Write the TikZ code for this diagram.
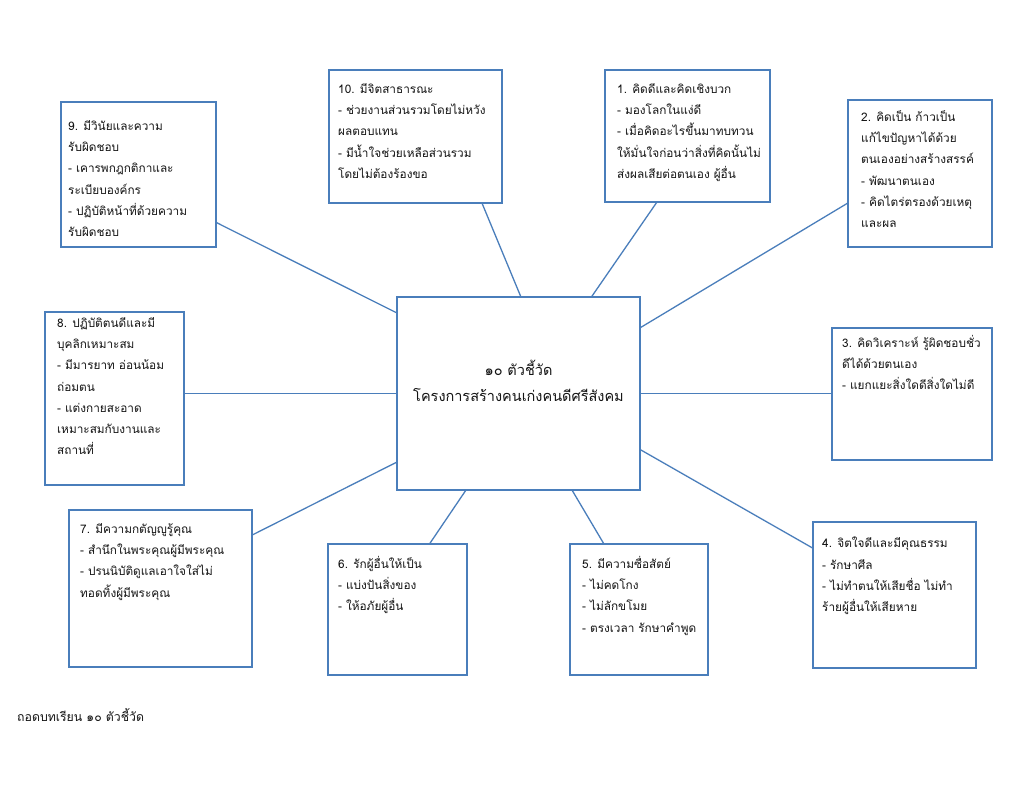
\documentclass[tikz,border=0pt]{standalone}
\usepackage{fontspec}
\newfontfamily\thaifont[Script=Thai]{Loma}
\usepackage{tikz}
\usetikzlibrary{positioning,calc}
\definecolor{kblue}{HTML}{4A7EBB}
\definecolor{ktextc}{HTML}{141414}
\tikzset{
  kbox/.style={draw=kblue, line width=2.6pt, fill=white, rectangle, inner sep=0pt, outer sep=0pt, anchor=north west},
  ktext/.style={align=left, anchor=north west, inner sep=0pt, text=ktextc, font=\thaifont\fontsize{11.8}{21.3}\selectfont},
  klink/.style={draw=kblue, line width=1.3pt}
}

\begin{document}
\begin{tikzpicture}[x=1pt,y=-1pt]
\useasboundingbox[fill=white] (0,0) rectangle (1024,791);
% boxes
\node[kbox, minimum width=243pt, minimum height=193pt] (c) at (397,297) {};
\node[kbox, minimum width=173pt, minimum height=133pt] (b10) at (329,70) {};
\node[kbox, minimum width=165pt, minimum height=132pt] (b1) at (605,70) {};
\node[kbox, minimum width=155pt, minimum height=145pt] (b9) at (61,102) {};
\node[kbox, minimum width=144pt, minimum height=147pt] (b2) at (848,100) {};
\node[kbox, minimum width=139pt, minimum height=173pt] (b8) at (45,312) {};
\node[kbox, minimum width=160pt, minimum height=132pt] (b3) at (832,328) {};
\node[kbox, minimum width=183pt, minimum height=157pt] (b7) at (69,510) {};
\node[kbox, minimum width=139pt, minimum height=131pt] (b6) at (328,544) {};
\node[kbox, minimum width=138pt, minimum height=131pt] (b5) at (570,544) {};
\node[kbox, minimum width=163pt, minimum height=146pt] (b4) at (813,522) {};
% texts
\node[align=center, text=ktextc, font=\thaifont\fontsize{14.5}{26}\selectfont] (tc) at ([yshift=13pt]c.center) {๑๐ ตัวชี้วัด\\โครงการสร้างคนเก่งคนดีศรีสังคม};
\node[ktext] (t10) at ([shift={(9,13)}]b10.north west) {10. มีจิตสาธารณะ\\- ช่วยงานส่วนรวมโดยไม่หวัง\\ผลตอบแทน\\- มีน้ำใจช่วยเหลือส่วนรวม\\โดยไม่ต้องร้องขอ};
\node[ktext] (t1) at ([shift={(12,13)}]b1.north west) {1. คิดดีและคิดเชิงบวก\\- มองโลกในแง่ดี\\- เมื่อคิดอะไรขึ้นมาทบทวน\\ให้มั่นใจก่อนว่าสิ่งที่คิดนั้นไม่\\ส่งผลเสียต่อตนเอง ผู้อื่น};
\node[ktext] (t9) at ([shift={(7,18)}]b9.north west) {9. มีวินัยและความ\\รับผิดชอบ\\- เคารพกฎกติกาและ\\ระเบียบองค์กร\\- ปฏิบัติหน้าที่ด้วยความ\\รับผิดชอบ};
\node[ktext] (t2) at ([shift={(13,10)}]b2.north west) {2. คิดเป็น ก้าวเป็น\\แก้ไขปัญหาได้ด้วย\\ตนเองอย่างสร้างสรรค์\\- พัฒนาตนเอง\\- คิดไตร่ตรองด้วยเหตุ\\และผล};
\node[ktext] (t8) at ([shift={(12,5)}]b8.north west) {8. ปฏิบัติตนดีและมี\\บุคลิกเหมาะสม\\- มีมารยาท อ่อนน้อม\\ถ่อมตน\\- แต่งกายสะอาด\\เหมาะสมกับงานและ\\สถานที่};
\node[ktext] (t3) at ([shift={(10,7)}]b3.north west) {3. คิดวิเคราะห์ รู้ผิดชอบชั่ว\\ดีได้ด้วยตนเอง\\- แยกแยะสิ่งใดดีสิ่งใดไม่ดี};
\node[ktext] (t7) at ([shift={(11,13)}]b7.north west) {7. มีความกตัญญูรู้คุณ\\- สำนึกในพระคุณผู้มีพระคุณ\\- ปรนนิบัติดูแลเอาใจใส่ไม่\\ทอดทิ้งผู้มีพระคุณ};
\node[ktext] (t6) at ([shift={(10,12)}]b6.north west) {6. รักผู้อื่นให้เป็น\\- แบ่งปันสิ่งของ\\- ให้อภัยผู้อื่น};
\node[ktext] (t5) at ([shift={(12,12)}]b5.north west) {5. มีความซื่อสัตย์\\- ไม่คดโกง\\- ไม่ลักขโมย\\- ตรงเวลา รักษาคำพูด};
\node[ktext] (t4) at ([shift={(9,15)}]b4.north west) {4. จิตใจดีและมีคุณธรรม\\- รักษาศีล\\- ไม่ทำตนให้เสียชื่อ ไม่ทำ\\ร้ายผู้อื่นให้เสียหาย};
\node[ktext, anchor=base west, font=\thaifont\fontsize{12.3}{21}\selectfont] (foot) at (17,721) {ถอดบทเรียน ๑๐ ตัวชี้วัด};
\begin{scope}
\draw[klink] ($(b9.north east)!.83!(b9.south east)$) -- ($(c.north west)!.083!(c.south west)$);
\draw[klink] ($(b10.south west)!.884!(b10.south east)$) -- ($(c.north west)!.51!(c.north east)$);
\draw[klink] ($(b1.south west)!.315!(b1.south east)$) -- ($(c.north west)!.80!(c.north east)$);
\draw[klink] ($(b2.north west)!.70!(b2.south west)$) -- ($(c.north east)!.16!(c.south east)$);
\draw[klink] (c.west) -- (c.west -| b8.east);
\draw[klink] (c.east) -- (c.east -| b3.west);
\draw[klink] ($(b7.north east)!.16!(b7.south east)$) -- ($(c.north west)!.855!(c.south west)$);
\draw[klink] ($(b6.north west)!.73!(b6.north east)$) -- ($(c.south west)!.284!(c.south east)$);
\draw[klink] ($(b5.north west)!.246!(b5.north east)$) -- ($(c.south west)!.72!(c.south east)$);
\draw[klink] ($(b4.north west)!.18!(b4.south west)$) -- ($(c.north east)!.79!(c.south east)$);
\end{scope}
%\draw[help lines] (0,0) grid (1024,791);
\end{tikzpicture}
\end{document}
